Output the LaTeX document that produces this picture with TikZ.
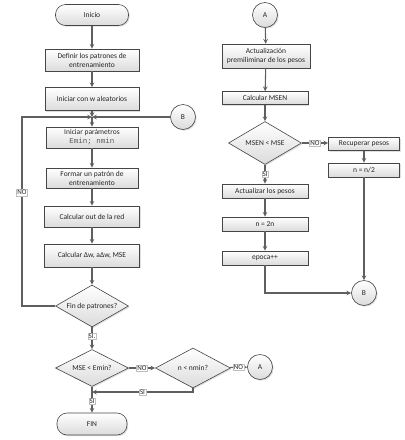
\documentclass[tikz,border=0pt]{standalone}
\usepackage{fontspec}
\setmainfont{Carlito}
\setmonofont{Liberation Mono}
\usetikzlibrary{
		positioning,
		shapes.geometric,
		shadows
	}
\definecolor{lineagris}{RGB}{95,95,95}
\definecolor{bordegris}{RGB}{70,70,70}
\tikzset{
		>=stealth,
		proceso/.style={draw=bordegris, line width=0.6pt, top color=white, bottom color=black!14,
			drop shadow={shadow xshift=1.2pt, shadow yshift=-1.2pt, opacity=0.25},
			align=center, inner sep=1pt, text=black!85, font=\fontsize{7.5}{9}\selectfont},
		terminal/.style={proceso, rounded corners=10pt},
		decision/.style={proceso, diamond, aspect=1.7, inner sep=0pt},
		conector/.style={proceso, circle, inner sep=0pt, minimum size=25pt},
		flecha/.style={->, draw=lineagris, line width=1.1pt},
		etiqueta/.style={fill=white, draw=black!25, line width=0.3pt, inner sep=0.8pt,
			font=\fontsize{7}{7.5}\selectfont, text=black!85}
	}

\begin{document}
\begin{tikzpicture}[x=1pt,y=-1pt]
          \useasboundingbox (0,0) rectangle (405,440);

          % columna izquierda
          \node[terminal, minimum width=73pt, minimum height=21pt] (inicio) at (92,15) {Inicio};
          \node[proceso, minimum width=94pt, minimum height=22pt] (definir) at (92,60) {Definir los patrones de\\entrenamiento};
          \node[proceso, minimum width=94pt, minimum height=23pt] (iniciarw) at (92,99) {Iniciar con w aleatorios};
          \coordinate (J) at (92,117);
          \node[conector] (Bizq) at (183,117) {B};
          \node[proceso, minimum width=92pt, minimum height=21pt] (iniciarp) at (92,137.5) {Iniciar par\'ametros\\\texttt{\color{black!65}Emin; nmin}};
          \node[proceso, minimum width=92pt, minimum height=20pt] (formar) at (92,178) {Formar un patr\'on de\\entrenamiento};
          \node[proceso, minimum width=95pt, minimum height=21pt] (out) at (92,216.5) {Calcular out de la red};
          \node[proceso, minimum width=95pt, minimum height=23pt] (calc) at (92,255.5) {Calcular Δw, aΔw, MSE};
          \node[decision, minimum width=73pt, minimum height=42pt] (fin) at (92,306) {Fin de patrones?};
          \node[decision, minimum width=73pt, minimum height=37pt] (mse) at (92,368) {MSE < Emin?};
          \node[decision, minimum width=75pt, minimum height=40pt] (nmin) at (193,368) {n < nmin?};
          \node[conector] (Aabj) at (260,367) {A};
          \coordinate (uneSI) at (92,392);
          \node[terminal, minimum width=70pt, minimum height=22pt] (FIN) at (92,424) {FIN};

          % columna derecha
          \node[conector] (Aarr) at (265,15) {A};
          \node[proceso, minimum width=88pt, minimum height=24pt] (act) at (266,56) {Actualizaci\'on\\premiliminar de los pesos};
          \node[proceso, minimum width=86pt, minimum height=13pt] (msen) at (265,98) {Calcular MSEN};
          \node[decision, minimum width=73pt, minimum height=43pt] (dmsen) at (265,143) {MSEN < MSE};
          \node[proceso, minimum width=71pt, minimum height=13pt] (recup) at (364,144) {Recuperar pesos};
          \node[proceso, minimum width=71pt, minimum height=14pt] (nhalf) at (364,170) {n = n/2};
          \node[proceso, minimum width=86pt, minimum height=14pt] (actp) at (265,191) {Actualizar los pesos};
          \node[proceso, minimum width=86pt, minimum height=14pt] (n2n) at (265,224) {n = 2n};
          \node[proceso, minimum width=86pt, minimum height=14pt] (epoca) at (265,258) {epoca++};
          \node[conector] (Bder) at (364,293) {B};

          \draw[flecha] (inicio) -- (definir);
          \draw[flecha] (definir) -- (iniciarw);
          \draw[flecha] (iniciarw) -- (J);
          \draw[flecha] (Bizq) -- (J);
          \draw[flecha] (J) -- (iniciarp);
          \draw[flecha] (iniciarp) -- (formar);
          \draw[flecha] (formar) -- (out);
          \draw[flecha] (out) -- (calc);
          \draw[flecha] (calc) -- (fin);
          \coordinate (esqNO) at (22,306);
          \draw[flecha] (fin.west) -- (esqNO) -- node[etiqueta, pos=0.6]{NO} (esqNO |- J) -- (J);
          \draw[flecha] (fin) -- node[etiqueta, pos=0.4]{SI.} (mse);
          \draw[flecha] (mse) -- node[etiqueta]{NO} (nmin);
          \draw[flecha] (nmin) -- node[etiqueta]{NO} (Aabj);
          \draw[flecha] (nmin.south) |- node[etiqueta, pos=0.75]{SI} (uneSI);
          \draw[flecha] (mse) -- node[etiqueta, pos=0.55]{SI} (FIN);

          \draw[flecha] (Aarr) -- (act);
          \draw[flecha] (act) -- (msen);
          \draw[flecha] (msen) -- (dmsen);
          \draw[flecha] (dmsen.east) -- node[etiqueta]{NO} (dmsen.east -| recup.west);
          \draw[flecha] (dmsen) -- node[etiqueta]{SI} (actp);
          \draw[flecha] (recup) -- (nhalf);
          \draw[flecha] (actp) -- (n2n);
          \draw[flecha] (n2n) -- (epoca);
          \draw[flecha] (epoca.south) |- (Bder);
          \draw[flecha] (nhalf) -- (Bder);

          \end{tikzpicture}
\end{document}
